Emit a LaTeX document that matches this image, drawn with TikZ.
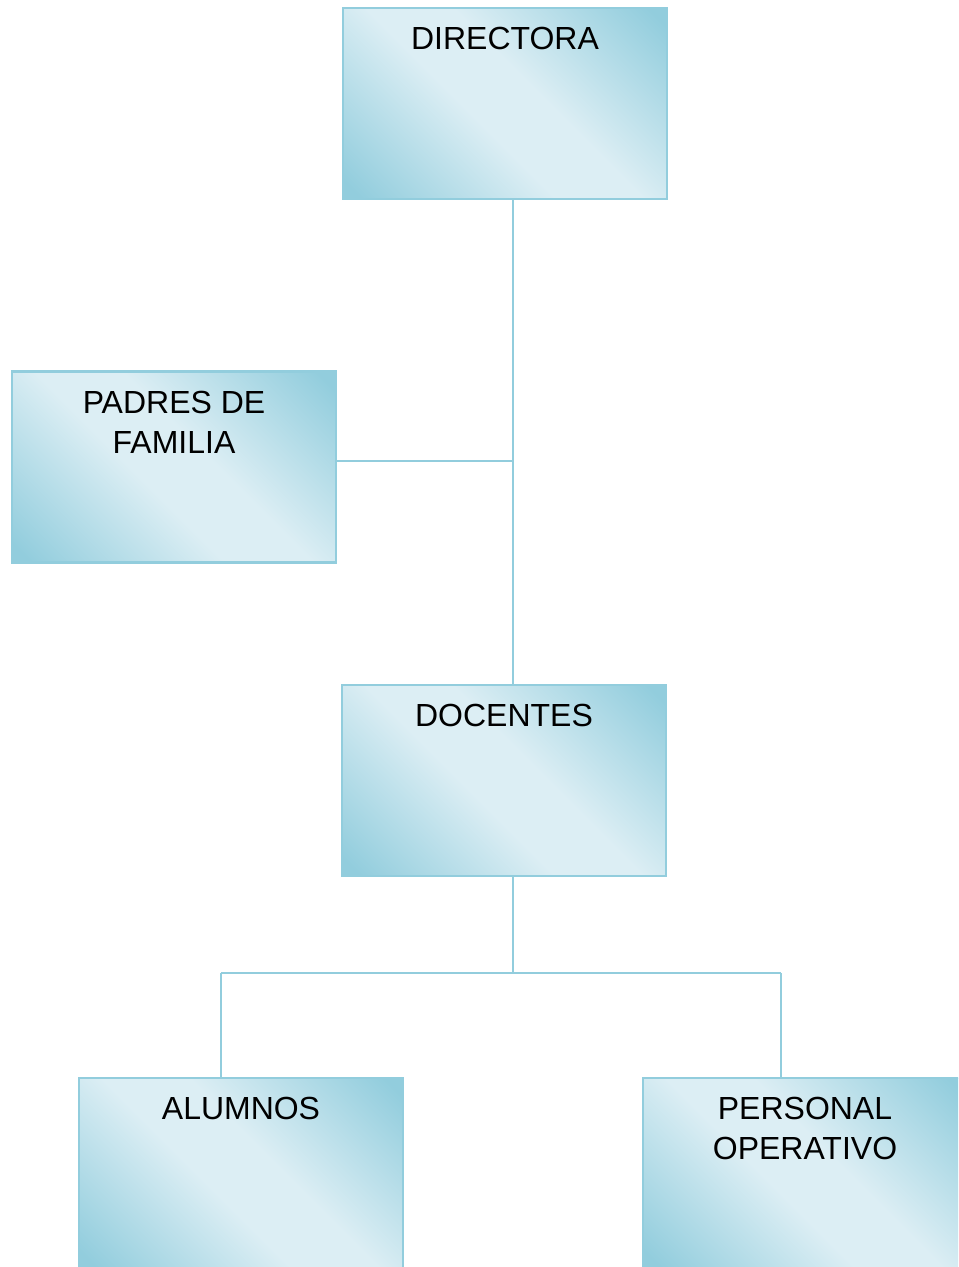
\documentclass[tikz,border=0pt]{standalone}
\usepackage{fontspec}
\setmainfont{Liberation Sans}
\usepackage{tikz}
\usetikzlibrary{positioning}
\definecolor{boxBlue}{RGB}{146, 205, 221}
\definecolor{boxLight}{RGB}{220, 238, 244}
\pgfdeclareverticalshading{boxshade}{100bp}{color(0bp)=(boxBlue); color(17bp)=(boxBlue); color(44bp)=(boxLight); color(56bp)=(boxLight); color(83bp)=(boxBlue); color(100bp)=(boxBlue)}

\begin{document}
\begin{tikzpicture}
  [
    Box/.style={rectangle, draw=boxBlue, line width=1.3pt, shading=boxshade, shading angle=-45, minimum width=6.48cm, minimum height=3.82cm},
    Title/.style={anchor=north, inner sep=0pt, yshift=-0.4cm, align=center, font=\fontsize{18.2}{23}\selectfont},
    Link/.style={draw=boxBlue, line width=1.1pt}
  ]
  \useasboundingbox (0, 0) rectangle (19.16, -25.34);
  \clip (0, 0) rectangle (19.16, -25.34);

  % Nodes
  \node[Box, label={[Title]north:DIRECTORA}] (dir) at(10.1, -2.07) {};
  \node[Box, label={[Title]north:PADRES DE\\FAMILIA}] (pad) at(3.48, -9.34) {};
  \node[Box, label={[Title]north:DOCENTES}] (doc) at(10.08, -15.61) {};
  \node[Box, label={[Title]north:ALUMNOS}] (alu) at(4.82, -23.47) {};
  \node[Box, label={[Title]north:PERSONAL\\OPERATIVO}] (per) at(16.1, -23.47) {};

  \coordinate (j1) at(10.26, -9.22);
  \coordinate (j2) at(10.26, -19.46);
  \coordinate (j3) at(4.42, -19.46);
  \coordinate (j4) at(15.62, -19.46);

% Lines
  \path [Link] (dir.south -| j1) -- (doc.north -| j1);
  \path [Link] (pad.east |- j1) -- (j1);
  \path [Link] (doc.south -| j2) -- (j2);
  \path [Link] (j3) -- (j4);
  \path [Link] (j3) -- (alu.north -| j3);
  \path [Link] (j4) -- (per.north -| j4);

\end{tikzpicture}
\end{document}
